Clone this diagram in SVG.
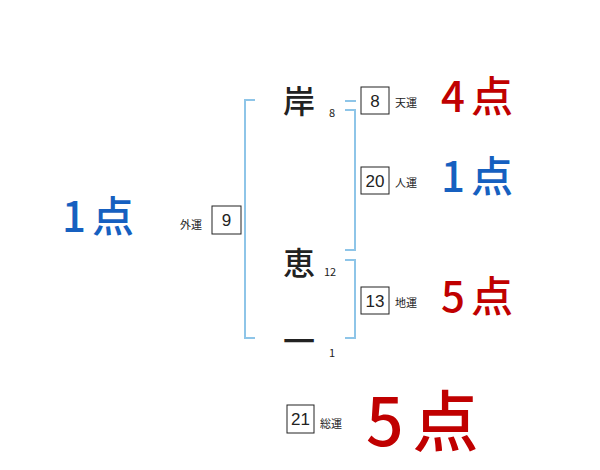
<svg xmlns="http://www.w3.org/2000/svg" width="600" height="470" viewBox="0 0 600 470">
<style>
.br{fill:none;stroke:#8ec5e8;stroke-width:2}
.box{fill:#fff;stroke:#222;stroke-width:1}
.num{font-family:"Liberation Sans","Noto Sans CJK JP",sans-serif;font-size:17px;fill:#222;text-anchor:middle}
.lab{font-family:"Noto Sans CJK JP",sans-serif;font-size:11px;fill:#222}
.nm{font-family:"Noto Sans CJK JP",sans-serif;font-size:32px;font-weight:500;fill:#222;text-anchor:middle}
.sc{font-family:"Noto Sans CJK JP",sans-serif;font-size:11px;fill:#222}
.red{font-family:"Noto Sans CJK JP",sans-serif;font-size:42px;font-weight:500;fill:#c00000;letter-spacing:6px}
.blue{font-family:"Noto Sans CJK JP",sans-serif;font-size:42px;font-weight:500;fill:#1660c0;letter-spacing:6px}
</style>
<g id="connectors">
<path class="br" d="M255,100 H245 V338 H255"/>
<path class="br" d="M345,101 H356"/>
<path class="br" d="M345,110 H355 V250 H345"/>
<path class="br" d="M345,260 H355 V338 H345"/>
</g>
<g id="name1"><text class="nm" x="299" y="113">岸</text><text class="sc" x="329" y="117">8</text></g>
<g id="name2"><text class="nm" x="299" y="275">恵</text><text class="sc" x="324" y="276">12</text></g>
<g id="name3"><text class="nm" x="299" y="353">一</text><text class="sc" x="329" y="357">1</text></g>
<g id="tenun"><rect class="box" x="361" y="87" width="28" height="27"/><text class="num" x="375" y="107">8</text><text class="lab" x="395" y="107">天運</text></g>
<g id="jinun"><rect class="box" x="361" y="167" width="28" height="27"/><text class="num" x="375" y="187">20</text><text class="lab" x="395" y="187">人運</text></g>
<g id="chiun"><rect class="box" x="361" y="287" width="28" height="27"/><text class="num" x="375" y="307">13</text><text class="lab" x="395" y="307">地運</text></g>
<g id="gaiun"><rect class="box" x="212" y="206" width="29" height="28"/><text class="num" x="226.5" y="226">9</text><text class="lab" x="180" y="229">外運</text></g>
<g id="soun"><rect class="box" x="287" y="405" width="27" height="28"/><text class="num" x="300.5" y="425">21</text><text class="lab" x="320" y="428">総運</text></g>
<g id="score-ten"><text class="red" x="441" y="112">4点</text></g>
<g id="score-jin"><text class="blue" x="441" y="192">1点</text></g>
<g id="score-chi"><text class="red" x="441" y="312">5点</text></g>
<g id="score-gai"><text class="blue" x="62" y="232">1点</text></g>
<g id="score-so"><text class="red" x="366" y="446" style="font-size:66px;letter-spacing:9px">5点</text></g>
</svg>
